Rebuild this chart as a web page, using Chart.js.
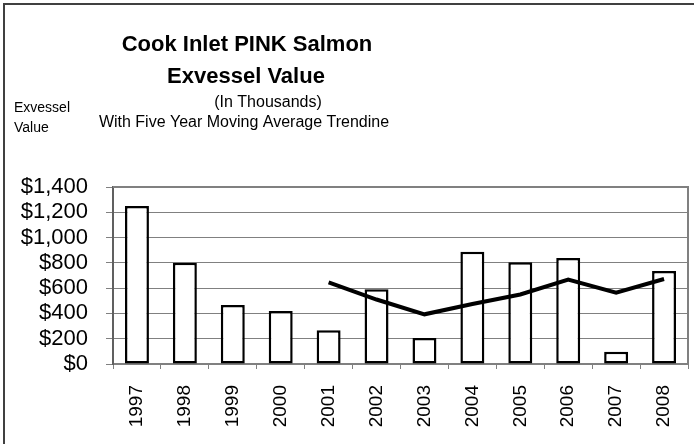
<!DOCTYPE html>
<html>
<head>
<meta charset="utf-8">
<script src="https://cdn.jsdelivr.net/npm/chart.js@4"></script>
<style>
  html, body { margin: 0; padding: 0; background: #fff; }
  #wrap { position: relative; width: 694px; height: 444px; }
</style>
</head>
<body>
<div id="wrap"><canvas id="chart" width="694" height="444"></canvas></div>
<script>
// Data (values in thousands of dollars)
const years = ['1997', '1998', '1999', '2000', '2001', '2002', '2003', '2004', '2005', '2006', '2007', '2008'];
const exvesselValue = [1250, 800, 467, 420, 266, 592, 205, 888, 804, 838, 97, 735];
const movingAverage = [null, null, null, null, 645, 510, 393, 475, 550, 668, 565, 672];
const yTicks = [0, 200, 400, 600, 800, 1000, 1200, 1400];

const titleLines = ['Cook Inlet PINK Salmon', 'Exvessel Value'];
const subtitleLines = ['(In Thousands)', 'With Five Year Moving Average Trendine'];
const axisLabelLines = ['Exvessel', 'Value'];

const FONT = '"Liberation Sans", Arial, sans-serif';

// Draws headings, side label and the frame lines
const headingPlugin = {
  id: 'headings',
  afterDraw(chart) {
    const ctx = chart.ctx;
    const area = chart.chartArea;
    ctx.save();
    ctx.fillStyle = '#000';
    ctx.textBaseline = 'middle';

    ctx.textAlign = 'center';
    ctx.font = 'bold 22px ' + FONT;
    ctx.fillText(titleLines[0], 247, 45);
    ctx.fillText(titleLines[1], 246, 77);

    ctx.font = '16px ' + FONT;
    ctx.fillText(subtitleLines[0], 268, 103);
    ctx.fillText(subtitleLines[1], 244, 123);

    ctx.textAlign = 'left';
    ctx.font = '14px ' + FONT;
    ctx.fillText(axisLabelLines[0], 14, 108);
    ctx.fillText(axisLabelLines[1], 14, 128);

    // plot frame: top and right sides
    ctx.strokeStyle = '#808080';
    ctx.lineWidth = 2;
    ctx.beginPath();
    ctx.moveTo(area.left, area.top);
    ctx.lineTo(area.right, area.top);
    ctx.lineTo(area.right, area.bottom);
    ctx.stroke();

    // outer chart border (only top/left visible)
    ctx.strokeStyle = '#404040';
    ctx.lineWidth = 2;
    ctx.beginPath();
    ctx.moveTo(4, 444);
    ctx.lineTo(4, 4);
    ctx.lineTo(694, 4);
    ctx.stroke();
    ctx.restore();
  }
};

const ctx = document.getElementById('chart');
new Chart(ctx, {
  data: {
    labels: years,
    datasets: [
      {
        type: 'line',
        label: '5 yr moving average',
        data: movingAverage,
        borderColor: '#000',
        borderWidth: 4,
        pointRadius: 0,
        tension: 0,
        spanGaps: false,
        order: 0
      },
      {
        type: 'bar',
        label: 'Exvessel Value',
        data: exvesselValue,
        backgroundColor: '#fff',
        borderColor: '#000',
        borderWidth: 2.5,
        borderSkipped: false,
        barPercentage: 0.5,
        categoryPercentage: 1.0,
        order: 1
      }
    ]
  },
  options: {
    responsive: false,
    animation: false,
    layout: {
      padding: { top: 187, right: 6, left: 0, bottom: 0 }
    },
    plugins: {
      legend: { display: false },
      title: { display: false },
      tooltip: { enabled: false }
    },
    scales: {
      x: {
        offset: true,
        grid: {
          offset: true,
          drawOnChartArea: false,
          drawTicks: true,
          tickLength: 5,
          color: '#808080'
        },
        border: { color: '#808080', width: 2 },
        ticks: {
          color: '#000',
          font: { family: FONT, size: 19 },
          minRotation: 90,
          maxRotation: 90,
          autoSkip: false,
          padding: 16
        },
        afterFit(scale) {
          scale.height = 80;
          scale.paddingLeft = 0;
          scale.paddingRight = 0;
        }
      },
      y: {
        min: 0,
        max: 1400,
        afterBuildTicks(scale) {
          scale.ticks = yTicks.map(v => ({ value: v }));
        },
        grid: {
          color: '#808080',
          lineWidth: 1,
          tickLength: 7
        },
        border: { color: '#606060', width: 2 },
        ticks: {
          color: '#000',
          font: { family: FONT, size: 22 },
          padding: 18,
          autoSkip: false,
          callback: v => '$' + v.toLocaleString('en-US')
        },
        afterFit(scale) {
          scale.width = 113;
          scale.paddingTop = 0;
          scale.paddingBottom = 0;
        }
      }
    }
  },
  plugins: [headingPlugin]
});
</script>
</body>
</html>
